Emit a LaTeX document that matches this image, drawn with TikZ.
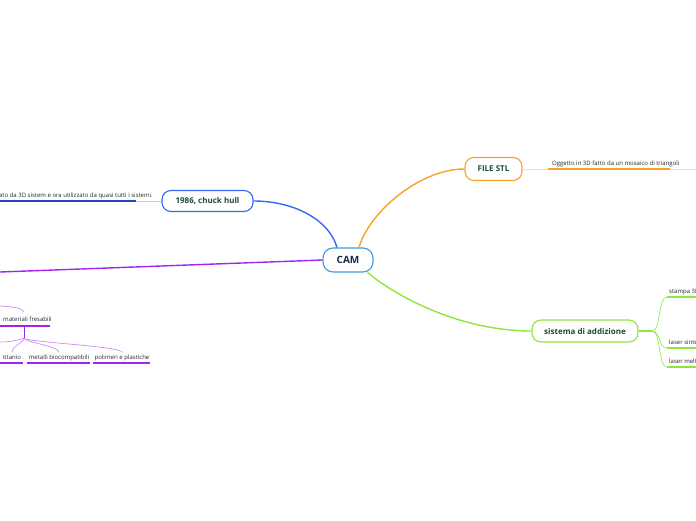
\documentclass[tikz,border=0pt]{standalone}
\usepackage{fontspec}
\setmainfont{Open Sans}
\usetikzlibrary{calc}
\definecolor{camline}{HTML}{3E9BD8}
\definecolor{camtext}{HTML}{182A4A}
\definecolor{titletext}{HTML}{1C4B3C}
\definecolor{bluebr}{HTML}{2F6CF2}
\definecolor{bluedk}{HTML}{2344C4}
\definecolor{bluelt}{HTML}{B5C9FA}
\definecolor{orangebr}{HTML}{F7A326}
\definecolor{orangelt}{HTML}{FCDCA6}
\definecolor{greenbr}{HTML}{8DE63C}
\definecolor{purplebr}{HTML}{A224F2}
\definecolor{purplelt}{HTML}{C77CF8}
\tikzset{
  topic/.style={draw, rounded corners=9pt, line width=1.1pt, fill=white,
    font=\bfseries\fontsize{8}{9}\selectfont, text=titletext, inner sep=0pt},
  note/.style={font=\fontsize{6}{7}\selectfont, text=black!85, inner sep=0pt},
  branch/.style={line width=1.4pt},
  uline/.style={line width=1.8pt},
  twig/.style={line width=0.6pt},
}
\begin{document}
\begin{tikzpicture}[x=1pt,y=-1pt]
  \useasboundingbox (0,0) rectangle (696,520);
  \clip (0,0) rectangle (696,520);
  % main topics
  \node[topic, draw=camline, text=camtext, font=\bfseries\fontsize{10}{12}\selectfont,
    minimum width=50pt, minimum height=24pt, rounded corners=10pt] (cam) at (348,260) {CAM};
  \node[topic, draw=bluebr, minimum width=91pt, minimum height=21pt] (chuck) at (207.5,201) {1986, chuck hull};
  \node[topic, draw=orangebr, minimum width=57pt, minimum height=23pt] (stl) at (493.5,169) {FILE STL};
  \node[topic, draw=greenbr, minimum width=106pt, minimum height=22pt] (addizione) at (585,331) {sistema di addizione};
  \coordinate (pleft) at (0,272);
  % branches from CAM
  \draw[branch, bluebr] ([xshift=-11pt]cam.north) .. controls +(-8,-28) and +(40,0) .. (chuck.east);
  \draw[branch, orangebr] ([xshift=11pt]cam.north) .. controls +(10,-35) and +(-45,0) .. (stl.west);
  \draw[branch, greenbr] ([xshift=-6pt]cam.south east) .. controls +(30,25) and +(-70,0) .. (addizione.west);
  \draw[branch, purplebr] (cam.west) -- (pleft);
  % 1986, chuck hull
  \coordinate (chuckA) at (136,201);
  \coordinate (chuckB) at (0,201);
  \node[note, anchor=base east] (chucknote) at (153,197) {creato da 3D sistem e ora utilizzato da quasi tutti i sistemi.};
  \draw[line width=1pt, bluelt] (chuck.west) -- (chuckA);
  \draw[uline, bluedk] (chuckA) -- (chuckB);
  % FILE STL
  \coordinate (stlA) at (548,169);
  \coordinate (stlB) at (670,169);
  \coordinate (stlC) at (696,169);
  \node[note, anchor=base west] (stlnote) at (552,165) {Oggetto in 3D fatto da un mosaico di triangoli};
  \draw[line width=1pt, orangelt] (stl.east) -- (stlA);
  \draw[uline, orangebr] (stlA) -- (stlB);
  \draw[line width=1pt, orangelt] (stlB) -- (stlC);
  % sistema di addizione
  \coordinate (fork) at (652,331);
  \draw[branch, greenbr] (addizione.east) -- (fork);
  \foreach \name/\y/\txt in {stampa/297/stampa 3D, sinter/348/laser sintering, melt/367/laser melting}{
    \coordinate (\name A) at (667,\y);
    \coordinate (\name B) at (700,\y);
    \node[note, anchor=base west] (\name) at (669,\y-4) {\txt};
    \draw[twig, greenbr] (fork) .. controls +(9,0) and +(-9,0) .. (\name A);
    \draw[uline, greenbr] (\name A) -- (\name B);
  }
  % materiali fresabili
  \coordinate (fresA) at (0,326);
  \coordinate (fresB) at (50,326);
  \coordinate (fresstem) at (24,326);
  \coordinate (fresfork) at (24,338);
  \coordinate (fresin) at (0,306);
  \coordinate (fresout) at (0,342);
  \node[note, anchor=base west] (fresabili) at (3,321) {materiali fresabili};
  \draw[twig, purplelt] (fresin) .. controls +(15,1) and +(-2,-4) .. (24,312);
  \draw[uline, purplebr] (fresA) -- (fresB);
  \draw[line width=1pt, purplebr] (fresstem) -- (fresfork);
  \draw[twig, purplelt] (fresfork) .. controls +(-8,3) and +(8,0) .. (fresout);
  \foreach \name/\x/\a/\b/\txt in {titanio/12/0/23/titanio, metalli/59/27/90/metalli biocompatibili, polimeri/122/93/150/polimeri e plastiche}{
    \node[note, anchor=base] (\name) at (\x,359) {\txt};
    \coordinate (\name A) at (\a,363);
    \coordinate (\name B) at (\b,363);
    \draw[twig, purplelt] (fresfork) .. controls +(0,4) and +(0,-6) .. ([yshift=2pt]\name.north);
    \draw[uline, purplebr] (\name A) -- (\name B);
  }
\end{tikzpicture}
\end{document}
